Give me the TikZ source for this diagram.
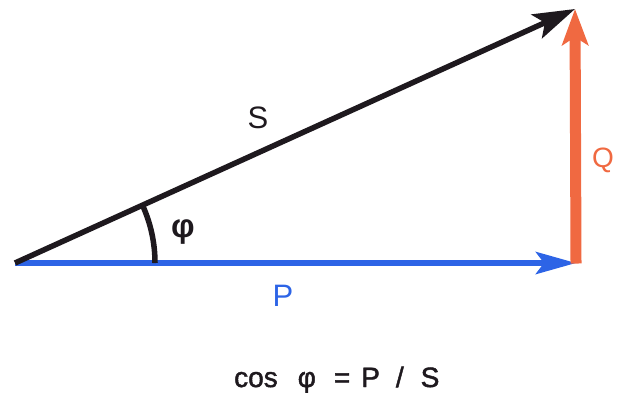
\documentclass[tikz,border=0pt]{standalone}
\usepackage{fontspec}
\setmainfont{Liberation Sans}
\usetikzlibrary{arrows.meta}
\definecolor{vblue}{RGB}{45,100,230}
\definecolor{vred}{RGB}{240,105,65}
\definecolor{vblack}{RGB}{30,25,30}
\begin{document}
\begin{tikzpicture}[x=1pt,y=-1pt,
  lbl/.style={inner sep=0pt,font=\fontsize{31}{33}\selectfont}]
\useasboundingbox (0,0) rectangle (617,392);
\clip (0,0) rectangle (617,392);
\coordinate (O) at (15,263);
\coordinate (A) at (576,263);
\coordinate (B) at (575,9);
% P
\draw[vblue,line width=6pt,-{Stealth[length=40pt,width=22pt,inset=8pt]}] (O) -- (A);
% Q
\draw[vred,line width=11pt,-{Stealth[length=36pt,width=26pt,inset=8pt]}] ([yshift=-0.5pt]A) -- (B);
% S
\draw[vblack,line width=5.5pt,-{Stealth[length=42pt,width=26pt,inset=9pt]}] (O) -- (B);
% angle arc
\draw[vblack,line width=5.5pt] ([xshift=140pt]O) arc[start angle=0,end angle=24.4,radius=140pt];
\node[lbl,text=vblack] (S) at (258,118) {S};
\node[lbl,text=vblack,font=\fontsize{33}{35}\bfseries\selectfont] (phi) at (183,232) {φ};
\node[lbl,text=vblue] (P) at (283,296) {P};
\node[lbl,text=vred,anchor=north west,font=\fontsize{28}{30}\selectfont] (Q) at (592,148) {Q};
\node[lbl,text=vblack,anchor=base west,font=\fontsize{28}{30}\addfontfeature{FakeBold=1.6}\selectfont] (eq) at (234,387)
  {cos\hspace{20pt}φ\hspace{18pt}=\hspace{11pt}P\hspace{16pt}/\hspace{17pt}S};
\end{tikzpicture}
\end{document}
